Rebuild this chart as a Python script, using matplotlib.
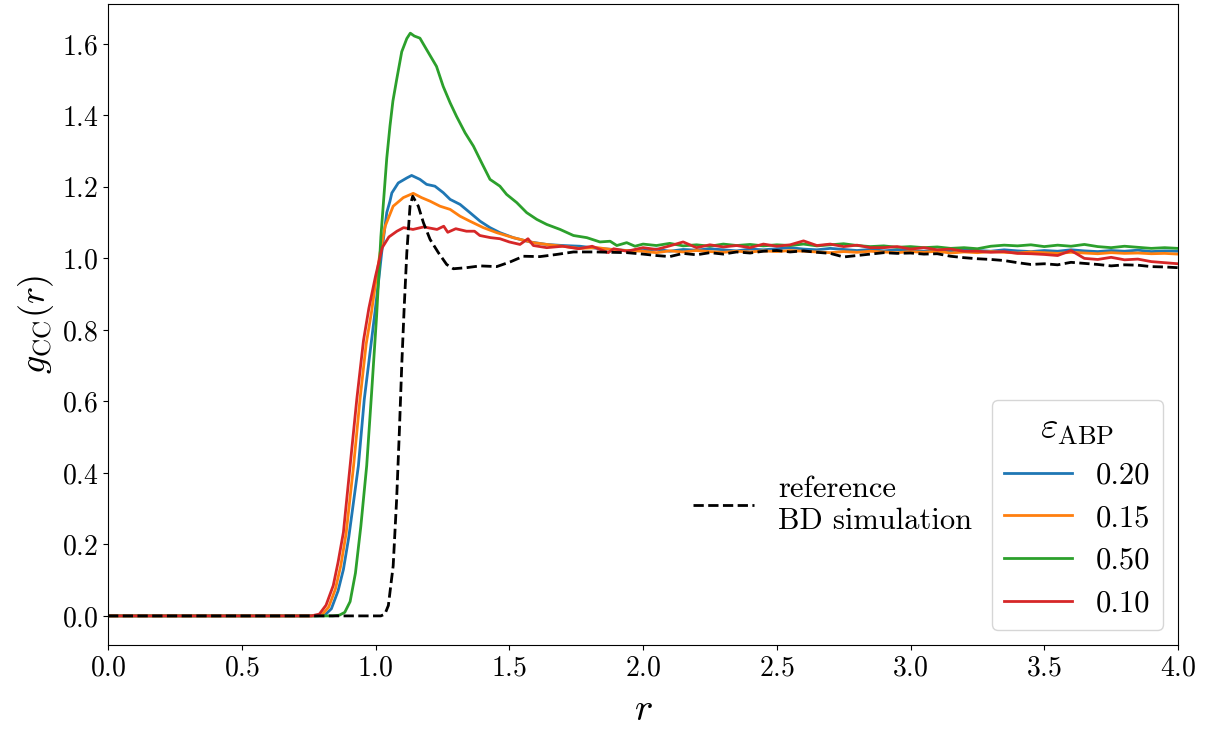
import matplotlib
matplotlib.use("Agg")
import matplotlib.pyplot as plt
import numpy as np

plt.rcParams['font.family'] = 'serif'
plt.rcParams['font.serif'] = ['cmr10']
plt.rcParams['mathtext.fontset'] = 'cm'
plt.rcParams['axes.unicode_minus'] = False
plt.rcParams['axes.formatter.use_mathtext'] = True

# common tail grid (r = 2.0 ... 4.0)
r_tail = [2.00, 2.05, 2.10, 2.15, 2.20, 2.25, 2.30, 2.35, 2.40, 2.45, 2.50, 2.55, 2.60, 2.65,
          2.70, 2.75, 2.80, 2.85, 2.90, 2.95, 3.00, 3.05, 3.10, 3.15, 3.20, 3.25, 3.30, 3.35,
          3.40, 3.45, 3.50, 3.55, 3.60, 3.65, 3.70, 3.75, 3.80, 3.85, 3.90, 3.95, 4.00]

# eps = 0.20 (blue)
r_020 = [0.0, 0.5, 0.78, 0.81, 0.835, 0.86, 0.88, 0.90, 0.936, 0.958, 0.98, 0.998, 1.012, 1.023,
         1.042, 1.054, 1.061, 1.085, 1.117, 1.135, 1.166, 1.191, 1.222, 1.253, 1.279, 1.316,
         1.353, 1.391, 1.428, 1.465, 1.515, 1.578, 1.64, 1.70, 1.764, 1.83, 1.889, 1.94]
g_020 = [0.0, 0.0, 0.0, 0.002, 0.02, 0.07, 0.13, 0.22, 0.42, 0.606, 0.74, 0.85, 0.94, 1.016,
         1.128, 1.160, 1.183, 1.211, 1.225, 1.232, 1.221, 1.207, 1.202, 1.184, 1.165, 1.151,
         1.128, 1.104, 1.086, 1.072, 1.058, 1.046, 1.039, 1.036, 1.034, 1.028, 1.025, 1.022]
g_020_tail = [1.022, 1.026, 1.020, 1.025, 1.023, 1.027, 1.024, 1.021, 1.026, 1.024, 1.027, 1.030,
              1.026, 1.024, 1.028, 1.025, 1.022, 1.025, 1.021, 1.024, 1.022, 1.020, 1.023, 1.021,
              1.025, 1.022, 1.020, 1.024, 1.021, 1.019, 1.022, 1.020, 1.024, 1.021, 1.019, 1.022,
              1.020, 1.023, 1.019, 1.021, 1.020]

# eps = 0.15 (orange)
r_015 = [0.0, 0.5, 0.77, 0.80, 0.825, 0.85, 0.87, 0.89, 0.918, 0.942, 0.965, 0.985, 1.0, 1.017,
         1.036, 1.066, 1.104, 1.141, 1.172, 1.204, 1.241, 1.279, 1.316, 1.353, 1.403, 1.453,
         1.515, 1.59, 1.65, 1.70, 1.76, 1.83, 1.89, 1.94]
g_015 = [0.0, 0.0, 0.0, 0.003, 0.025, 0.075, 0.14, 0.23, 0.42, 0.606, 0.76, 0.85, 0.93, 1.016,
         1.09, 1.146, 1.170, 1.182, 1.170, 1.160, 1.146, 1.137, 1.118, 1.104, 1.086, 1.072,
         1.058, 1.044, 1.038, 1.034, 1.028, 1.030, 1.024, 1.022]
g_015_tail = [1.020, 1.016, 1.021, 1.018, 1.022, 1.019, 1.017, 1.020, 1.018, 1.021, 1.019, 1.022,
              1.020, 1.018, 1.016, 1.019, 1.017, 1.020, 1.018, 1.016, 1.019, 1.017, 1.020, 1.015,
              1.018, 1.016, 1.019, 1.017, 1.015, 1.018, 1.016, 1.014, 1.017, 1.015, 1.013, 1.016,
              1.014, 1.015, 1.013, 1.014, 1.012]

# eps = 0.50 (green)
r_050 = [0.0, 0.5, 0.84, 0.865, 0.885, 0.905, 0.925, 0.945, 0.967, 0.985, 1.004, 1.02, 1.032,
         1.042, 1.054, 1.065, 1.079, 1.098, 1.117, 1.13, 1.145, 1.166, 1.191, 1.228, 1.253,
         1.279, 1.303, 1.335, 1.366, 1.397, 1.428, 1.465, 1.49, 1.528, 1.565, 1.603, 1.64,
         1.69, 1.74, 1.79, 1.839, 1.877, 1.902, 1.939, 1.97]
g_050 = [0.0, 0.0, 0.0, 0.002, 0.01, 0.04, 0.12, 0.25, 0.42, 0.62, 0.838, 1.06, 1.18,
         1.28, 1.37, 1.44, 1.50, 1.578, 1.615, 1.630, 1.622, 1.616, 1.584, 1.537, 1.481,
         1.435, 1.397, 1.351, 1.314, 1.267, 1.221, 1.202, 1.179, 1.156, 1.128, 1.109, 1.095,
         1.081, 1.064, 1.058, 1.046, 1.048, 1.036, 1.044, 1.034]
g_050_tail = [1.040, 1.036, 1.042, 1.035, 1.038, 1.034, 1.040, 1.036, 1.039, 1.035, 1.038, 1.036,
              1.040, 1.035, 1.038, 1.041, 1.036, 1.033, 1.035, 1.031, 1.033, 1.030, 1.032, 1.028,
              1.030, 1.027, 1.034, 1.037, 1.035, 1.038, 1.033, 1.037, 1.034, 1.039, 1.033, 1.030,
              1.034, 1.031, 1.028, 1.030, 1.028]

# eps = 0.10 (red)
r_010 = [0.0, 0.5, 0.76, 0.79, 0.815, 0.842, 0.86, 0.88, 0.905, 0.93, 0.955, 0.975, 1.0, 1.025,
         1.05, 1.08, 1.105, 1.14, 1.18, 1.23, 1.255, 1.27, 1.30, 1.34, 1.37, 1.39, 1.43, 1.465,
         1.50, 1.54, 1.57, 1.59, 1.64, 1.70, 1.76, 1.81, 1.87, 1.89, 1.94]
g_010 = [0.0, 0.0, 0.0, 0.005, 0.03, 0.085, 0.15, 0.234, 0.42, 0.606, 0.77, 0.86, 0.95, 1.03,
         1.06, 1.076, 1.086, 1.081, 1.088, 1.081, 1.090, 1.073, 1.083, 1.076, 1.076, 1.064, 1.058,
         1.055, 1.046, 1.039, 1.055, 1.036, 1.030, 1.034, 1.027, 1.034, 1.016, 1.027, 1.020]
g_010_tail = [1.030, 1.025, 1.035, 1.046, 1.030, 1.038, 1.032, 1.036, 1.030, 1.040, 1.034, 1.038,
              1.049, 1.036, 1.040, 1.033, 1.037, 1.030, 1.030, 1.033, 1.026, 1.030, 1.024, 1.026,
              1.020, 1.020, 1.017, 1.019, 1.014, 1.013, 1.011, 1.008, 1.022, 1.000, 0.997, 1.003,
              0.996, 0.998, 0.991, 0.988, 0.985]

# reference BD simulation (black dashed)
r_bd = [0.0, 0.5, 1.0, 1.02, 1.035, 1.048, 1.066, 1.079, 1.089, 1.098, 1.107, 1.117, 1.129,
        1.139, 1.16, 1.179, 1.204, 1.235, 1.266, 1.291, 1.34, 1.391, 1.453, 1.503, 1.553, 1.615,
        1.677, 1.74, 1.827, 1.94]
g_bd = [0.0, 0.0, 0.0, 0.0, 0.005, 0.029, 0.14, 0.327, 0.513, 0.70, 0.86, 1.016, 1.146,
        1.174, 1.146, 1.100, 1.053, 1.016, 0.983, 0.971, 0.974, 0.979, 0.977, 0.990, 1.006, 1.005,
        1.011, 1.018, 1.018, 1.016]
g_bd_tail = [1.012, 1.008, 1.005, 1.014, 1.010, 1.016, 1.012, 1.018, 1.015, 1.020, 1.022, 1.018,
             1.021, 1.017, 1.014, 1.004, 1.008, 1.012, 1.016, 1.014, 1.015, 1.012, 1.013, 1.006,
             1.002, 0.999, 0.997, 0.994, 0.988, 0.983, 0.985, 0.982, 0.989, 0.986, 0.983, 0.979,
             0.982, 0.981, 0.977, 0.976, 0.974]

labels = ['0.20', '0.15', '0.50', '0.10']
colors = ['#1f77b4', '#ff7f0e', '#2ca02c', '#d62728']
series = [(r_020, g_020, g_020_tail), (r_015, g_015, g_015_tail),
          (r_050, g_050, g_050_tail), (r_010, g_010, g_010_tail)]

fig = plt.figure(figsize=(12.22, 7.31), dpi=100)
ax = fig.add_axes([0.0884, 0.1176, 0.8756, 0.8769])

handles = []
for (rr, gg, gt), lab, col in zip(series, labels, colors):
    h, = ax.plot(list(rr) + r_tail, list(gg) + gt, color=col, lw=2.0, label=lab)
    handles.append(h)

hbd, = ax.plot(r_bd + r_tail, g_bd + g_bd_tail, color='black', ls='--', lw=2.0,
               label='reference\nBD simulation')

ax.set_xlim(0, 4)
ax.set_xticks([0.0, 0.5, 1.0, 1.5, 2.0, 2.5, 3.0, 3.5, 4.0])
ax.set_yticks([0.0, 0.2, 0.4, 0.6, 0.8, 1.0, 1.2, 1.4, 1.6])
ax.tick_params(labelsize=20)
ax.set_xlabel(r'$r$', fontsize=28, labelpad=8)
ax.set_ylabel(r'$g_{\mathrm{CC}}(r)$', fontsize=26)

leg1 = ax.legend(handles=handles, title=r'$\varepsilon_{\mathrm{ABP}}$', loc='lower right',
                 fontsize=22, title_fontsize=27, handlelength=2.2)
ax.add_artist(leg1)
ax.legend(handles=[hbd], loc='center', bbox_to_anchor=(0.677, 0.218), frameon=False,
          fontsize=22, handlelength=2.0)

fig.savefig('out.png', dpi=100)
